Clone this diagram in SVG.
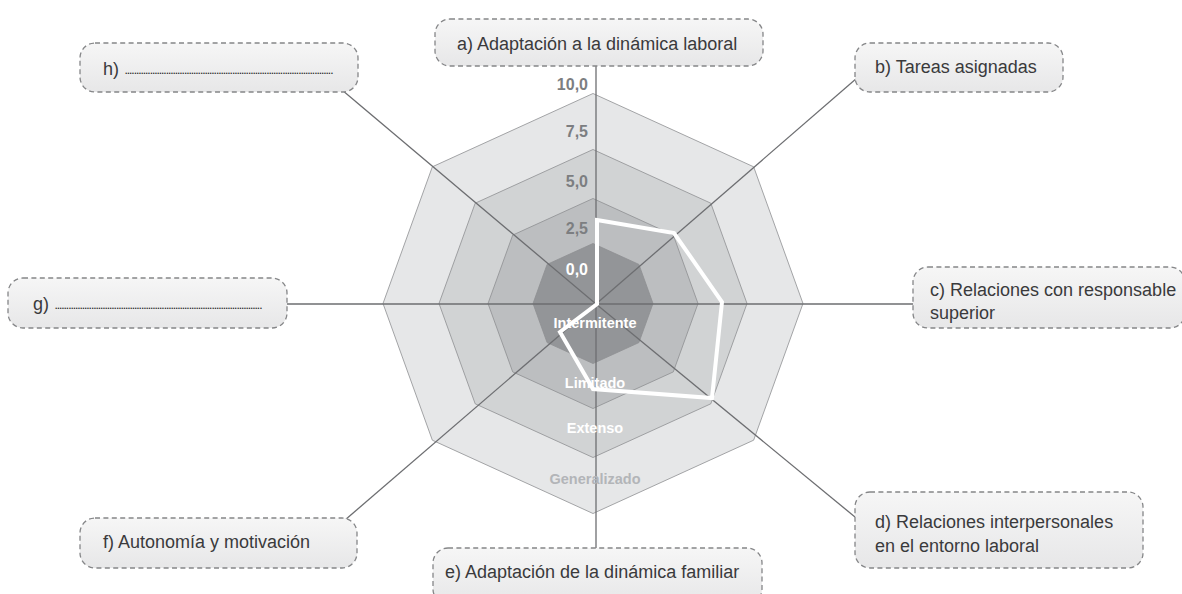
<svg xmlns="http://www.w3.org/2000/svg" width="1182" height="594" viewBox="0 0 1182 594">
  <defs>
    <linearGradient id="boxFill" x1="0" y1="0" x2="0" y2="1">
      <stop offset="0" stop-color="#f6f6f6"/>
      <stop offset="1" stop-color="#e7e7e8"/>
    </linearGradient>
    <style>
      .box { fill: url(#boxFill); stroke: #858688; stroke-width: 1.3; stroke-dasharray: 5 3.4; }
      .lbl { font-family: "Liberation Sans", Arial, sans-serif; font-size: 18px; fill: #3a3a3c; }
      .dots { font-family: "Liberation Sans", Arial, sans-serif; font-size: 8.5px; font-weight: bold; fill: #2a2a2c; }
      .ring { stroke: #8e8f92; stroke-width: 0.8; stroke-linejoin: round; }
      .axis { stroke: #6d6e71; stroke-width: 1.3; fill: none; }
      .scale { font-family: "Liberation Sans", Arial, sans-serif; font-size: 16px; font-weight: bold; fill: #7c7e81; text-anchor: end; }
      .level { font-family: "Liberation Sans", Arial, sans-serif; font-size: 14.5px; font-weight: bold; fill: #ffffff; text-anchor: middle; }
    </style>
  </defs>

  <rect width="1182" height="594" fill="#ffffff"/>

  <!-- concentric octagon rings, outermost first -->
  <g id="rings">
    <polygon class="ring" fill="#e6e7e8" points="593,93.5 753.65,166.8 803,303.5 753.65,440.2 593,513.5 432.35,440.2 383,303.5 432.35,166.8"/>
    <polygon class="ring" fill="#d1d3d4" points="593,149.5 710.8,203.2 747,303.5 710.8,403.8 593,457.5 475.2,403.8 439,303.5 475.2,203.2"/>
    <polygon class="ring" fill="#bcbec0" points="593,198.5 673.3,235.1 698,303.5 673.3,371.9 593,408.5 512.7,371.9 488,303.5 512.7,235.1"/>
    <polygon class="ring" fill="#939598" points="593,243.5 638.9,264.4 653,303.5 638.9,342.6 593,363.5 547.1,342.6 533,303.5 547.1,264.4"/>
  </g>

  <!-- axes running from the centre out to each label box -->
  <g id="connectors">
    <line class="axis" x1="596" y1="304" x2="596" y2="66"/>
    <line class="axis" x1="596" y1="304" x2="857" y2="78"/>
    <line class="axis" x1="596" y1="304" x2="913" y2="304"/>
    <line class="axis" x1="596" y1="304" x2="855" y2="517"/>
    <line class="axis" x1="596" y1="304" x2="596" y2="548"/>
    <line class="axis" x1="596" y1="304" x2="345" y2="520"/>
    <line class="axis" x1="596" y1="304" x2="287" y2="304"/>
    <line class="axis" x1="596" y1="304" x2="342" y2="90"/>
  </g>

  <!-- scale values on the vertical axis -->
  <g id="scale">
    <text class="scale" x="588" y="90">10,0</text>
    <text class="scale" x="588" y="137">7,5</text>
    <text class="scale" x="588" y="187">5,0</text>
    <text class="scale" x="588" y="234">2,5</text>
    <text class="scale" x="588" y="275" style="fill:#ffffff">0,0</text>
  </g>

  <!-- support level names -->
  <g id="levels">
    <text class="level" x="595" y="328">Intermitente</text>
    <text class="level" x="595" y="388">Limitado</text>
    <text class="level" x="595" y="433">Extenso</text>
    <text class="level" x="595" y="484" style="fill:#b3b5b8">Generalizado</text>
  </g>

  <!-- profile line -->
  <g id="profile">
    <polygon points="597,220 674,233 722,302 712,398 593,389 560,332 597,304" fill="none" stroke="#ffffff" stroke-width="4" stroke-linejoin="miter"/>
  </g>

  <!-- label boxes -->
  <g id="node-a">
    <rect class="box" x="435" y="19" width="328" height="47" rx="15"/>
    <text class="lbl" x="457" y="50">a) Adaptación a la dinámica laboral</text>
  </g>
  <g id="node-b">
    <rect class="box" x="855" y="43" width="208" height="49" rx="15"/>
    <text class="lbl" x="875" y="73">b) Tareas asignadas</text>
  </g>
  <g id="node-c">
    <rect class="box" x="913" y="267" width="272" height="61" rx="15"/>
    <text class="lbl" x="930" y="296">c) Relaciones con responsable</text>
    <text class="lbl" x="930" y="319">superior</text>
  </g>
  <g id="node-d">
    <rect class="box" x="855" y="492" width="288" height="76" rx="15"/>
    <text class="lbl" x="875" y="528">d) Relaciones interpersonales</text>
    <text class="lbl" x="875" y="552">en el entorno laboral</text>
  </g>
  <g id="node-e">
    <rect class="box" x="433" y="548" width="329" height="56" rx="15"/>
    <text class="lbl" x="445" y="578">e) Adaptación de la dinámica familiar</text>
  </g>
  <g id="node-f">
    <rect class="box" x="80" y="518" width="277" height="50" rx="15"/>
    <text class="lbl" x="103" y="548">f) Autonomía y motivación</text>
  </g>
  <g id="node-g">
    <rect class="box" x="8" y="278" width="279" height="50" rx="15"/>
    <text class="lbl" x="33" y="310">g)</text>
    <text class="dots" x="55" y="309" textLength="207" lengthAdjust="spacing">...........................................................................................</text>
  </g>
  <g id="node-h">
    <rect class="box" x="80" y="43" width="278" height="49" rx="15"/>
    <text class="lbl" x="103" y="75">h)</text>
    <text class="dots" x="125" y="74" textLength="208" lengthAdjust="spacing">...........................................................................................</text>
  </g>
</svg>
